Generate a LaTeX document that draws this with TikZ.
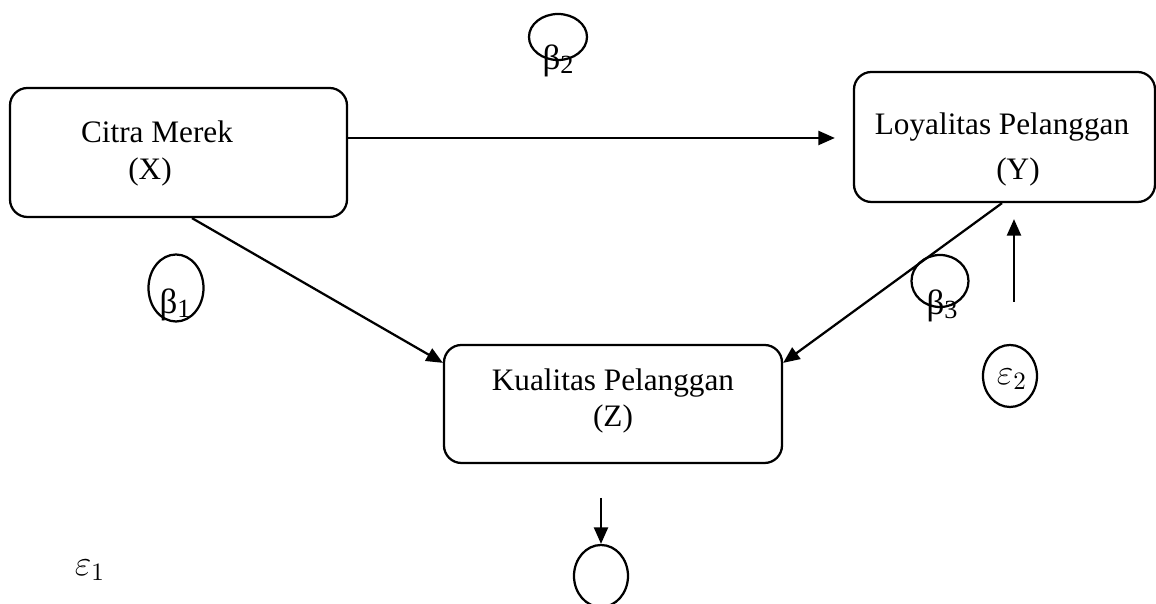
\documentclass[tikz,border=0pt]{standalone}
\usepackage{fontspec}
\setmainfont{Liberation Serif}
\usetikzlibrary{shapes.geometric, arrows.meta, positioning, calc}

\newcommand{\bsub}[1]{{\fontsize{14}{16}\selectfont β}{\raisebox{-1.6pt}{\fontsize{10.5}{12}\selectfont #1}}}

\tikzset{
    varbox/.style={draw, rounded corners=7pt, line width=0.9pt, inner sep=0pt},
    coefell/.style={draw, ellipse, line width=0.9pt, inner sep=0pt},
    pathline/.style={line width=0.9pt, -{Triangle[length=6.6pt, width=5.6pt]}},
    vartext/.style={anchor=base, font=\fontsize{12.5}{15}\selectfont},
    errtext/.style={font=\fontsize{14}{16}\selectfont}
}

\begin{document}
\begin{tikzpicture}[x=0.4pt, y=-0.4pt]
                \useasboundingbox (0,0) rectangle (1156,604);

                % Variable boxes
                \node[varbox, minimum width=134.8pt, minimum height=51.6pt] (citra) at (178.5,152.5) {};
                \node[vartext] (citraname) at (157,143) {Citra Merek};
                \node[vartext] (citrasym) at (150,180) {(X)};

                \node[varbox, minimum width=120.4pt, minimum height=52pt] (loyal) at (1004.5,137) {};
                \node[vartext] (loyalname) at (1002,135) {Loyalitas Pelanggan};
                \node[vartext] (loyalsym) at (1018,180) {(Y)};

                \node[varbox, minimum width=135.2pt, minimum height=47.2pt] (kual) at (613,404) {};
                \node[vartext] (kualname) at (613,391) {Kualitas Pelanggan};
                \node[vartext] (kualsym) at (613,427) {(Z)};

                % Coefficient ellipses
                \node[coefell, minimum width=23.2pt, minimum height=18.4pt] (b2ell) at (558,37) {};
                \node[vartext] (b2) at (558,70) {\bsub{2}};

                \node[coefell, minimum width=22pt, minimum height=26.8pt] (b1ell) at (176,288) {};
                \node[vartext] (b1) at (175,314) {\bsub{1}};

                \node[coefell, minimum width=22.8pt, minimum height=20.8pt] (b3ell) at (940,281) {};
                \node[vartext] (b3) at (942,315) {\bsub{3}};

                % Error terms
                \node[coefell, minimum width=21.6pt, minimum height=24.8pt] (e2ell) at (1010,376) {};
                \node[errtext] (e2) at (1012,379) {$\varepsilon_2$};

                \node[coefell, minimum width=21.6pt, minimum height=24.8pt] (e1ell) at (601,576) {};
                \node[errtext] (e1) at (90,570) {$\varepsilon_1$};

                \coordinate (e2top) at (1014,302);
                \coordinate (zdown) at (601,498);

                % Paths
                \draw[pathline, shorten >=7.2pt] ([yshift=5.8pt]citra.east) -- ([yshift=5.8pt]citra.east -| loyal.west);
                \draw[pathline] ([xshift=5.4pt]citra.south) -- ([yshift=-7.6pt]kual.north west);
                \draw[pathline] ([xshift=-1pt]loyal.south) -- ([yshift=-7.6pt]kual.north east);
                \draw[pathline, shorten >=6.4pt] (e2top) -- (e2top |- loyal.south);
                \draw[pathline] (zdown) -- (e1ell.north);
            \end{tikzpicture}
\end{document}
